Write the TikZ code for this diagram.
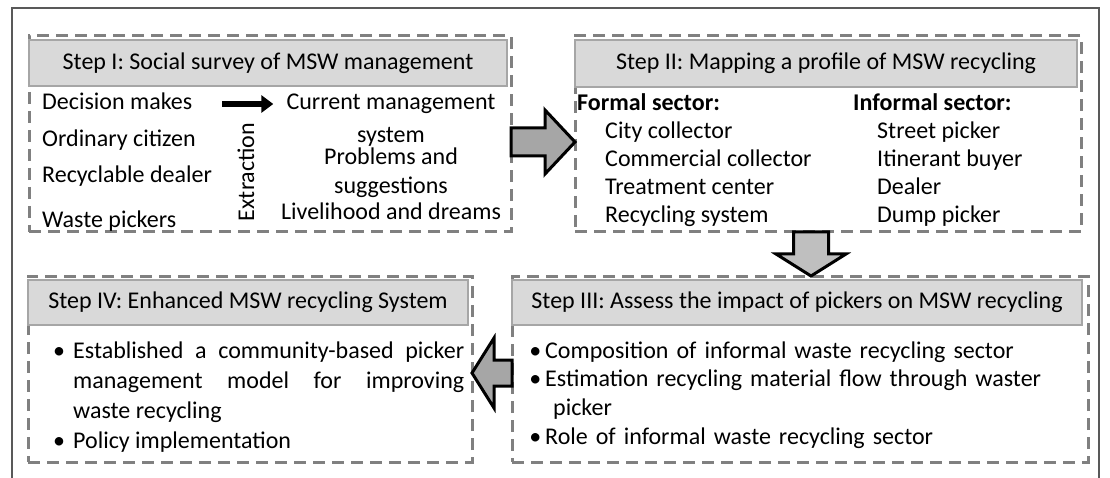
\documentclass[tikz,border=0pt]{standalone}
\usepackage{fontspec}
\setmainfont{Carlito}
\usetikzlibrary{calc,arrows.meta}
\definecolor{dashgray}{HTML}{808080}
\definecolor{headgray}{HTML}{D9D9D9}
\definecolor{headline}{HTML}{A6A6A6}
\definecolor{arrowgray}{HTML}{A6A6A6}
\definecolor{arrowlight}{HTML}{BFBFBF}
\definecolor{framegray}{HTML}{595959}

\begin{document}
\begin{tikzpicture}
  [x=1pt, y=-1pt,
    every node/.style={
      font=\fontsize{24pt}{30pt}\selectfont,
      inner sep=0pt
    },
    step box/.style={
      draw=dashgray,
      line width=3pt,
      dash pattern=on 12pt off 7pt,
      outer sep=0pt,
      anchor=north west
    },
    step head/.style={
      draw=headline,
      fill=headgray,
      line width=1.5pt,
      outer sep=0pt,
      anchor=north west
    },
    item/.style={text height=17pt, text depth=5pt},
    block arrow/.style n args={4}{
      draw=black, fill=#4, line width=3pt, line join=miter,
      to path={
        ($(\tikztostart)!#1!90:(\tikztotarget)$)
        -- ($(\tikztotarget)!#3!(\tikztostart)!#1!-90:(\tikztostart)$)
        -- ($(\tikztotarget)!#3!(\tikztostart)!#2!-90:(\tikztostart)$)
        -- (\tikztotarget)
        -- ($(\tikztotarget)!#3!(\tikztostart)!#2!90:(\tikztostart)$)
        -- ($(\tikztotarget)!#3!(\tikztostart)!#1!90:(\tikztostart)$)
        -- ($(\tikztostart)!#1!-90:(\tikztotarget)$)
        -- cycle}
    },
  ]
\useasboundingbox (0,0) rectangle (1110,478);

% Draw outer frame
\draw [framegray, line width=1.5pt] (12,478) -- (12,8) -- (1099,8) -- (1099,478);

% Draw step boxes and their headers
\foreach \n/\x/\y/\w/\h/\hw/\hh/\t in {
    I/29/36/482/196/478/46/{Step I: Social survey of MSW management},
    II/575/36/506/196/502/47/{Step II: Mapping a profile of MSW recycling},
    III/512/276/576/186/570/45/{Step III: Assess the impact of pickers on MSW recycling},
    IV/28/276/444/186/440/45/{Step IV: Enhanced MSW recycling System}} {
  \node [step box, minimum width=\w, minimum height=\h] (step\n) at (\x,\y) {};
  \node [step head, minimum width=\hw, minimum height=\hh] (head\n) at (\x,\y+4) {\t};
}

% Step I: who is asked and what is extracted
\foreach \t/\y [count=\i] in {Decision makes/104, Ordinary citizen/141,
    Recyclable dealer/177, Waste pickers/222}
  \node [item, anchor=west] (who-\i) at (42,\y) {\t};
\foreach \t/\y [count=\i] in {Current management/104, system/137,
    Problems and/159, suggestions/188, Livelihood and dreams/214}
  \node [item] (topic-\i) at (391,\y) {\t};
\node [rotate=90] (extract) at (246,172) {Extraction};
\draw [-{Triangle[length=12pt,width=17pt]}, line width=6pt,
  shorten <=30pt, shorten >=13pt] (who-1) -- (topic-1);

% Step II: formal and informal sector
\node [item, anchor=west] (formal) at (577,105) {\bfseries Formal sector:};
\node [item, anchor=west] (informal) at (853,105) {\bfseries Informal sector:};
\foreach \t [count=\i] in {City collector, Commercial collector,
    Treatment center, Recycling system}
  \node [item, anchor=west] (formal-\i) at (605,105+28*\i) {\t};
\foreach \t [count=\i] in {Street picker, Itinerant buyer, Dealer, Dump picker}
  \node [item, anchor=west] (informal-\i) at (877,105+28*\i) {\t};

% Step III: impact of pickers
\node [anchor=base west, text width=525pt, align=left,
  font=\fontsize{24pt}{28.7pt}\selectfont] (impact) at (545,358)
  {\leavevmode\llap{\textbullet\hspace{4pt}}Composition of informal waste recycling sector\\
   \leavevmode\llap{\textbullet\hspace{4pt}}Estimation recycling material flow through waster\\
   \hspace*{8pt}picker\\
   \leavevmode\llap{\textbullet\hspace{4pt}}Role of informal waste recycling sector};

% Step IV: enhanced system
\node [anchor=base west, text width=391pt, align=justify] (enhance) at (73,358)
  {\leavevmode\llap{\textbullet\hspace{8pt}}Established a community-based picker\linebreak
   management model for improving\linebreak waste recycling\par
   \leavevmode\llap{\textbullet\hspace{8pt}}Policy implementation};

% Connect the steps
\draw [block arrow={14pt}{32pt}{30pt}{arrowgray}]
  ([yshift=-8pt]stepI.east) to ([yshift=-8pt]stepII.west);
\coordinate (down-start) at ([xshift=-17pt]stepII.south);
\draw [block arrow={17.5pt}{35pt}{22pt}{arrowlight}]
  (down-start) to (down-start |- stepIII.north);
\draw [block arrow={13pt}{35pt}{22pt}{arrowgray}]
  ([yshift=-4pt]stepIII.west) to ([yshift=-4pt]stepIV.east);
\end{tikzpicture}
\end{document}
